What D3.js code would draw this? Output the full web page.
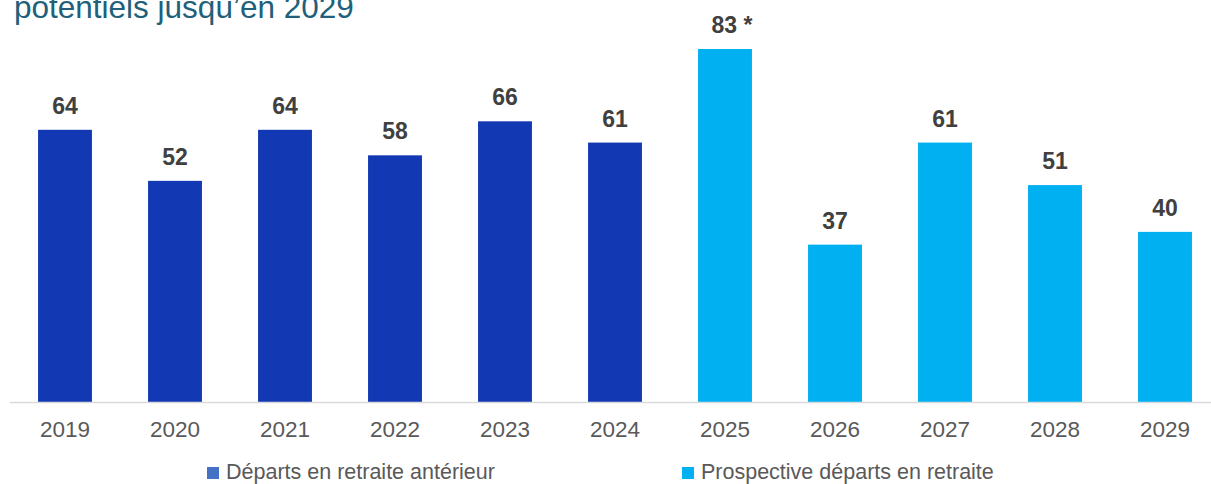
<!DOCTYPE html>
<html>
<head>
<meta charset="utf-8">
<script src="https://cdn.jsdelivr.net/npm/d3@7"></script>
<style>
  body { margin: 0; background: #fff; }
  text { font-family: "Liberation Sans", Arial, sans-serif; }
</style>
</head>
<body>
<div id="chart"></div>
<script>
const years = ["2019","2020","2021","2022","2023","2024","2025","2026","2027","2028","2029"]
const values = [64, 52, 64, 58, 66, 61, 83, 37, 61, 51, 40]
const labels = ["64","52","64","58","66","61","83 *","37","61","51","40"]
const series = ["Départs en retraite antérieur", "Prospective départs en retraite"]
const seriesOf = [0,0,0,0,0,0,1,1,1,1,1]

const width = 1211, height = 484

const barColors = ['#1239B3', '#00B0F0']
const legendColors = ['#4472C4', '#00B0F0']

const svg = d3.select("#chart")
  .append("svg")
    .attr("width", width)
    .attr("height", height)

// titre (coupé en haut dans l'original)
svg.append("text")
  .attr("x", 14)
  .attr("y", 18)
  .style("font-size", "31.5px")
  .style("fill", "#215F7A")
  .text("potentiels jusqu\u2019en 2029")

const x = d3.scaleBand()
  .domain(years)
  .range([10, 1220])
  .paddingInner(0.51)
  .paddingOuter(0.255)

const y = d3.scaleLinear()
  .domain([0, 83])
  .range([402, 49])

svg.append("g")
  .selectAll("rect")
  .data(years)
  .enter().append("rect")
    .attr("x", d => x(d))
    .attr("y", (d, i) => y(values[i]))
    .attr("width", x.bandwidth())
    .attr("height", (d, i) => y(0) - y(values[i]))
    .attr("fill", (d, i) => barColors[seriesOf[i]])

// axe du bas
const axis = svg.append("g")
  .attr("transform", "translate(0," + y(0) + ")")
  .call(d3.axisBottom(x).tickSize(0).tickPadding(19))
axis.select(".domain").attr("stroke", "#D9D9D9").attr("stroke-width", 1.5)
  .attr("d", "M10,0.5H1211")
axis.selectAll("text")
  .style("font-size", "22.5px")
  .style("fill", "#595959")
  .style("font-family", "'Liberation Sans', Arial, sans-serif")

// étiquettes de valeurs
svg.append("g")
  .selectAll("text")
  .data(years)
  .enter().append("text")
    .attr("x", (d, i) => x(d) + x.bandwidth() / 2 + (labels[i].length > 2 ? 7 : 0))
    .attr("y", (d, i) => y(values[i]) - 16)
    .attr("text-anchor", "middle")
    .style("font-size", "23px")
    .style("font-weight", "bold")
    .style("fill", "#404040")
    .text((d, i) => labels[i])

// légende
const legendX = [207, 682]
const legend = svg.append("g")
legend.selectAll("rect")
  .data(series)
  .enter().append("rect")
    .attr("x", (d, i) => legendX[i])
    .attr("y", 467)
    .attr("width", 12)
    .attr("height", 12)
    .attr("fill", (d, i) => legendColors[i])
legend.selectAll("text")
  .data(series)
  .enter().append("text")
    .attr("x", (d, i) => legendX[i] + 19)
    .attr("y", 479)
    .style("font-size", "21.5px")
    .style("fill", "#595959")
    .text(d => d)
</script>
</body>
</html>
